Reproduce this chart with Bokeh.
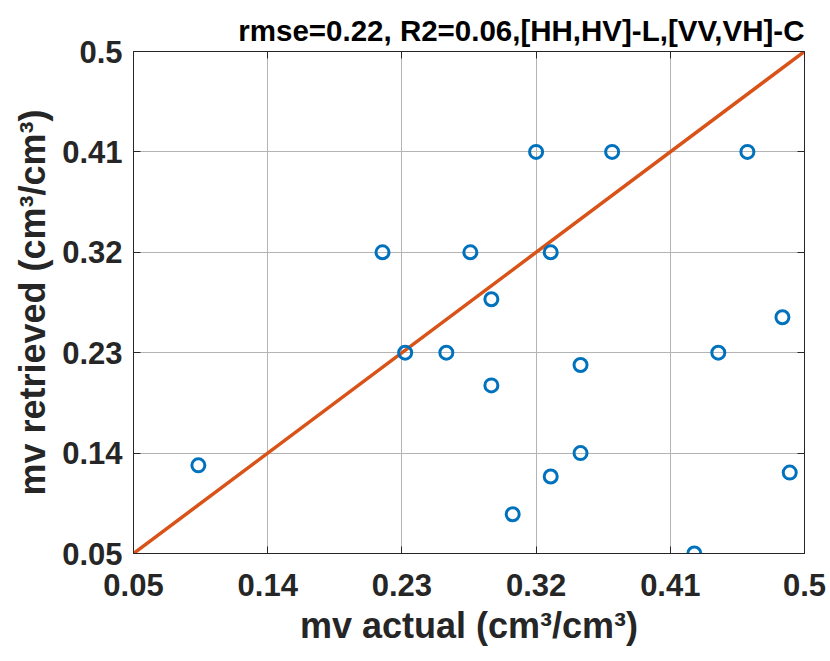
from bokeh.plotting import figure
from bokeh.models import Range1d, FixedTicker, LinearAxis
from bokeh.embed import file_html
from bokeh.resources import INLINE

# --- data ---
mv_actual = [0.0935, 0.217, 0.2322, 0.2598, 0.2759, 0.2900, 0.2900, 0.3043,
             0.3200, 0.3298, 0.3298, 0.3498, 0.3498, 0.3710, 0.4261, 0.4422,
             0.4617, 0.4852, 0.4901]
mv_retrieved = [0.1290, 0.3200, 0.2300, 0.2300, 0.3200, 0.2779, 0.2007, 0.0852,
                0.4100, 0.3200, 0.1190, 0.2190, 0.1400, 0.4100, 0.0500, 0.2300,
                0.4100, 0.2618, 0.1225]
one_to_one_x = [0.05, 0.5]
one_to_one_y = [0.05, 0.5]
tick_values = [0.05, 0.14, 0.23, 0.32, 0.41, 0.5]
tick_labels = ["0.05", "0.14", "0.23", "0.32", "0.41", "0.5"]
title_text = "rmse=0.22, R2=0.06,[HH,HV]-L,[VV,VH]-C"
x_label = "mv actual (cm\u00b3/cm\u00b3)"
y_label = "mv retrieved (cm\u00b3/cm\u00b3)"

FONT = "Liberation Sans"
INK = "#262626"

p = figure(width=830, height=661, output_backend="svg", toolbar_location=None,
           x_range=Range1d(0.05, 0.5), y_range=Range1d(0.05, 0.5),
           min_border_left=133, min_border_right=26, min_border_top=51,
           min_border_bottom=108, title=title_text)
p.outline_line_color = None
p.background_fill_color = "white"
p.border_fill_color = "white"

p.title.align = "right"
p.title.text_font = FONT
p.title.text_font_style = "bold"
p.title.text_font_size = "29.5px"
p.title.text_color = "black"
p.title.offset = 0
p.title.standoff = 10

overrides = dict(zip(tick_values, tick_labels))
ticker = FixedTicker(ticks=tick_values)

for ax in [p.xaxis[0], p.yaxis[0]]:
    ax.ticker = ticker
    ax.major_label_overrides = overrides
    ax.major_tick_in = 7
    ax.major_tick_out = 0
    ax.minor_tick_line_color = None
    ax.axis_line_color = INK
    ax.major_tick_line_color = INK
    ax.major_label_text_font = FONT
    ax.major_label_text_font_style = "bold"
    ax.major_label_text_font_size = "31px"
    ax.major_label_text_color = INK
    ax.axis_label_text_font = FONT
    ax.axis_label_text_font_style = "bold"
    ax.axis_label_text_font_size = "36px"
    ax.axis_label_text_color = INK

p.xaxis.axis_label = x_label
p.yaxis.axis_label = y_label
p.xaxis.major_label_standoff = 20
p.xaxis.axis_label_standoff = 6
p.yaxis.major_label_standoff = 11
p.yaxis.axis_label_standoff = 6

# box axes (top and right) with ticks only, no labels
for loc in ["above", "right"]:
    ax = LinearAxis(ticker=ticker)
    ax.major_tick_in = 7
    ax.major_tick_out = 0
    ax.minor_tick_line_color = None
    ax.axis_line_color = INK
    ax.major_tick_line_color = INK
    ax.major_label_text_font_size = "0px"
    ax.major_label_text_color = None
    ax.major_label_standoff = 0
    p.add_layout(ax, loc)

p.xgrid.ticker = ticker
p.ygrid.ticker = ticker
p.xgrid.grid_line_color = "#b4b4b4"
p.ygrid.grid_line_color = "#b4b4b4"
p.xgrid.grid_line_width = 1
p.ygrid.grid_line_width = 1

p.line(one_to_one_x, one_to_one_y, line_color="#D95319", line_width=3.5)
p.scatter(mv_actual, mv_retrieved, marker="circle", size=13,
          fill_color=None, line_color="#0072BD", line_width=3)

open("out.html", "w").write(file_html(p, INLINE))
